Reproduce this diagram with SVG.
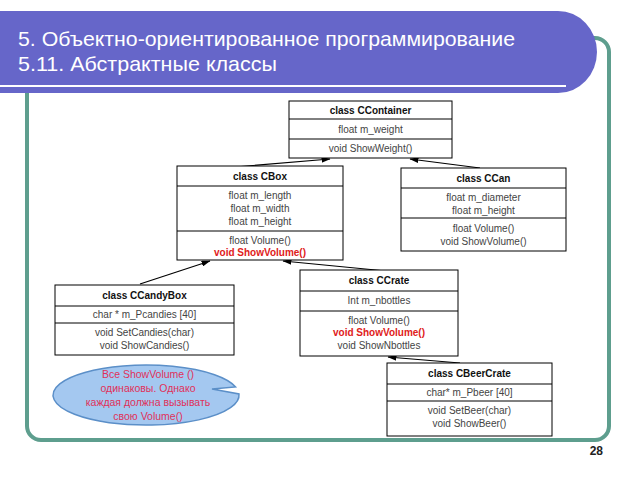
<svg xmlns="http://www.w3.org/2000/svg" width="640" height="480" viewBox="0 0 640 480">
<defs>
<style>
.box{fill:#fff;stroke:#000;stroke-width:1}
.t{font-family:"Liberation Sans",Arial,sans-serif;font-size:10px;fill:#444;text-anchor:middle}
.h{font-family:"Liberation Sans",Arial,sans-serif;font-size:10px;font-weight:bold;fill:#111;text-anchor:middle}
.r{font-family:"Liberation Sans",Arial,sans-serif;font-size:10px;font-weight:bold;fill:#e02020;text-anchor:middle}
.title{font-family:"Liberation Sans",Arial,sans-serif;font-size:21px;fill:#fff}
.note{font-family:"Liberation Sans",Arial,sans-serif;font-size:10.5px;fill:#e0305a;text-anchor:middle}
.conn{stroke:#000;stroke-width:1.2;fill:none;marker-end:url(#ah)}
</style>
<marker id="ah" markerWidth="9" markerHeight="6" refX="8.5" refY="3" orient="auto" markerUnits="userSpaceOnUse">
<path d="M0,0 L9,3 L0,6 Z" fill="#000"/>
</marker>
</defs>
<rect width="640" height="480" fill="#fff"/>
<rect x="27" y="38" width="582" height="402" rx="14" fill="#fff" stroke="#5e9e8e" stroke-width="4"/>
<path d="M0,11 H558 A39 41 0 0 1 558,93 H0 Z" fill="#6666c9"/>
<line x1="0" y1="86" x2="566" y2="86" stroke="#fff" stroke-width="2"/>
<text class="title" x="18" y="46" textLength="497" lengthAdjust="spacingAndGlyphs">5. Объектно-ориентированное программирование</text>
<text class="title" x="18" y="71" textLength="259" lengthAdjust="spacingAndGlyphs">5.11. Абстрактные классы</text>

<g id="connectors">
<line class="conn" x1="235" y1="167" x2="330" y2="159"/>
<line class="conn" x1="480" y1="168" x2="410" y2="159"/>
<line class="conn" x1="140" y1="284" x2="210" y2="261"/>
<line class="conn" x1="386" y1="271" x2="283" y2="261"/>
<line class="conn" x1="460" y1="363" x2="388" y2="357"/>
</g>

<g id="CContainer">
<rect class="box" x="289" y="101" width="163" height="57"/>
<line x1="289" y1="119" x2="452" y2="119" stroke="#000"/>
<line x1="289" y1="139" x2="452" y2="139" stroke="#000"/>
<text class="h" x="370.5" y="114">class CContainer</text>
<text class="t" x="370.5" y="133">float m_weight</text>
<text class="t" x="370.5" y="152">void ShowWeight()</text>
</g>

<g id="CBox">
<rect class="box" x="177" y="166" width="166" height="94"/>
<line x1="177" y1="186" x2="343" y2="186" stroke="#000"/>
<line x1="177" y1="231" x2="343" y2="231" stroke="#000"/>
<text class="h" x="260" y="180">class CBox</text>
<text class="t" x="260" y="199">float m_length</text>
<text class="t" x="260" y="212">float m_width</text>
<text class="t" x="260" y="225">float m_height</text>
<text class="t" x="260" y="244">float Volume()</text>
<text class="r" x="260" y="256">void  ShowVolume()</text>
</g>

<g id="CCan">
<rect class="box" x="401" y="168" width="165" height="83"/>
<line x1="401" y1="188" x2="566" y2="188" stroke="#000"/>
<line x1="401" y1="218" x2="566" y2="218" stroke="#000"/>
<text class="h" x="483.5" y="182">class CCan</text>
<text class="t" x="483.5" y="201">float m_diameter</text>
<text class="t" x="483.5" y="214">float m_height</text>
<text class="t" x="483.5" y="232">float Volume()</text>
<text class="t" x="483.5" y="245">void  ShowVolume()</text>
</g>

<g id="CCandyBox">
<rect class="box" x="55" y="285" width="179" height="70"/>
<line x1="55" y1="306" x2="234" y2="306" stroke="#000"/>
<line x1="55" y1="323" x2="234" y2="323" stroke="#000"/>
<text class="h" x="144.5" y="299">class CCandyBox</text>
<text class="t" x="144.5" y="318">char * m_Pcandies [40]</text>
<text class="t" x="144.5" y="336">void SetCandies(char)</text>
<text class="t" x="144.5" y="349">void ShowCandies()</text>
</g>

<g id="CCrate">
<rect class="box" x="300" y="270" width="158" height="86"/>
<line x1="300" y1="291" x2="458" y2="291" stroke="#000"/>
<line x1="300" y1="311" x2="458" y2="311" stroke="#000"/>
<text class="h" x="379" y="284">class CCrate</text>
<text class="t" x="379" y="304">Int m_nbottles</text>
<text class="t" x="379" y="324">float Volume()</text>
<text class="r" x="379" y="336">void ShowVolume()</text>
<text class="t" x="379" y="349">void ShowNbottles</text>
</g>

<g id="CBeerCrate">
<rect class="box" x="387" y="363" width="165" height="73"/>
<line x1="387" y1="384" x2="552" y2="384" stroke="#000"/>
<line x1="387" y1="401" x2="552" y2="401" stroke="#000"/>
<text class="h" x="469.5" y="377">class CBeerCrate</text>
<text class="t" x="469.5" y="396">char* m_Pbeer [40]</text>
<text class="t" x="469.5" y="414">void SetBeer(char)</text>
<text class="t" x="469.5" y="427">void ShowBeer()</text>
</g>

<g id="note">
<path d="M235.6,387 A93 30 0 1 0 239,394 L212,389 Z" fill="#a4c8f0" stroke="#5b8fc8" stroke-width="1.5"/>
<text class="note" x="148" y="378">Все ShowVolume ()</text>
<text class="note" x="148" y="392">одинаковы. Однако</text>
<text class="note" x="148" y="406">каждая должна вызывать</text>
<text class="note" x="148" y="420">свою Volume()</text>
</g>

<text x="603" y="455" font-family="Liberation Sans,Arial,sans-serif" font-size="12" font-weight="bold" fill="#222" text-anchor="end">28</text>
</svg>
